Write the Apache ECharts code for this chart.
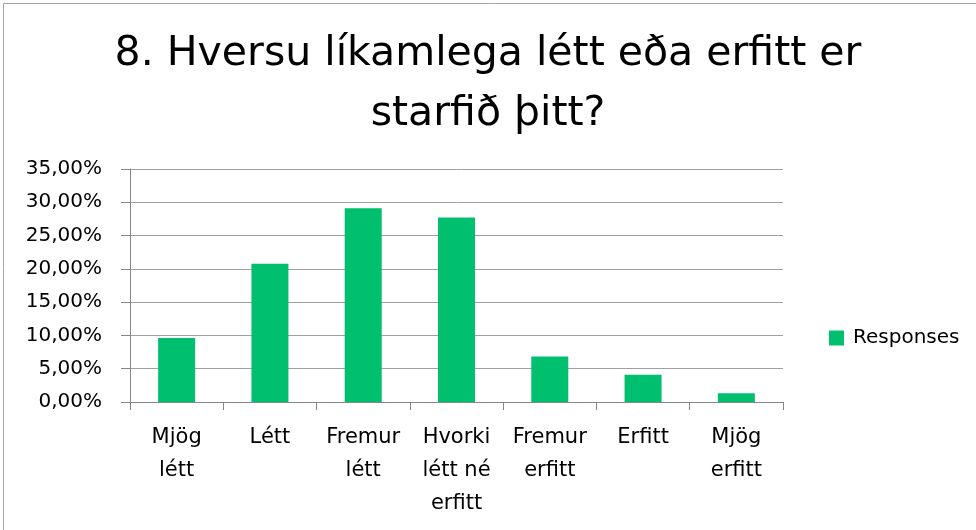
<!DOCTYPE html>
<html><head><meta charset="utf-8">
<script src="https://cdn.jsdelivr.net/npm/echarts@6/dist/echarts.min.js"></script>
<style>html,body{margin:0;padding:0;background:#fff}#c{width:976px;height:530px}</style>
</head><body><div id="c"></div>
<script>
const titleText = "8. Hversu líkamlega létt eða erfitt er\nstarfið þitt?";
const categories = ["Mjög\nlétt", "Létt", "Fremur\nlétt", "Hvorki\nlétt né\nerfitt", "Fremur\nerfitt", "Erfitt", "Mjög\nerfitt"];
const seriesName = "Responses";
const values = [9.6, 20.75, 29.1, 27.7, 6.85, 4.1, 1.3];
const yMin = 0, yMax = 35, yStep = 5;

const chart = echarts.init(document.getElementById('c'), null, {renderer: 'canvas'});
chart.setOption({
  animation: false,
  backgroundColor: '#fff',
  graphic: [{type: 'rect', shape: {x: 3.5, y: 3.5, width: 1100, height: 1100}, style: {fill: 'none', stroke: '#a6a6a6', lineWidth: 1}, silent: true}],
  title: {
    text: titleText, left: 'center', top: 19,
    textStyle: {fontFamily: 'DejaVu Sans', fontSize: 41, fontWeight: 'normal', color: '#000', lineHeight: 60}
  },
  legend: {
    data: [seriesName], left: 824, top: 323, orient: 'vertical',
    icon: 'rect', itemWidth: 15, itemHeight: 15, itemGap: 8,
    textStyle: {fontFamily: 'DejaVu Sans', fontSize: 20, color: '#000', padding: [0, 0, 0, 4]}
  },
  grid: {left: 130, right: 193, top: 169, bottom: 128, containLabel: false},
  xAxis: {
    type: 'category', data: categories,
    axisLine: {lineStyle: {color: '#868686', width: 1}},
    axisTick: {show: true, length: 8, alignWithLabel: false, lineStyle: {color: '#868686'}},
    axisLabel: {interval: 0, margin: 19, fontFamily: 'DejaVu Sans', fontSize: 21, color: '#000', lineHeight: 33}
  },
  yAxis: {
    type: 'value', min: yMin, max: yMax, interval: yStep,
    axisLine: {show: true, lineStyle: {color: '#868686'}},
    axisTick: {show: true, length: 9, lineStyle: {color: '#868686'}},
    splitLine: {lineStyle: {color: '#a0a0a0', width: 1}},
    axisLabel: {margin: 28, fontFamily: 'DejaVu Sans', fontSize: 20, color: '#000',
      formatter: v => v.toFixed(2).replace('.', ',') + '%'}
  },
  series: [{
    name: seriesName, type: 'bar', data: values, barWidth: 37,
    itemStyle: {color: '#00BF6F'}
  }]
});
</script></body></html>
